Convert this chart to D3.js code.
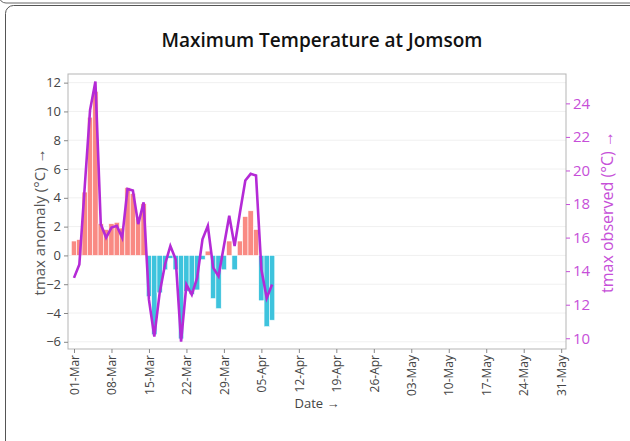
<!DOCTYPE html>
<html>
<head>
<meta charset="utf-8">
<script src="https://cdn.jsdelivr.net/npm/d3@7"></script>
<style>
  html, body { margin: 0; padding: 0; background: #fff; }
  svg { display: block; font-family: "Open Sans", sans-serif; }
</style>
</head>
<body>
<svg id="chart" width="630" height="441"></svg>
<script>
// ---- data (Mar 1 .. Apr 7) ----
const startDate = "2023-03-01";
const anomaly = [1.0, 1.1, 4.4, 9.6, 11.4, 2.2, 1.8, 2.2, 2.3, 1.9,
                 4.7, 4.3, 2.6, 3.6, -2.85, -5.5, -2.6, -1.0, -0.2, -1.0,
                 -5.8, -2.5, -2.7, -2.4, -0.3, 0.3, -3.0, -3.7, -1.0, 1.0,
                 -1.0, 1.0, 2.7, 3.1, 1.8, -3.15, -4.95, -4.5];
const observed = [13.6, 14.4, 19.0, 23.6, 25.3, 16.8, 16.0, 16.6, 16.7, 16.0,
                  18.9, 18.8, 16.8, 18.1, 12.3, 10.1, 12.7, 14.4, 15.5, 14.7,
                  9.8, 13.2, 12.6, 13.6, 15.9, 16.7, 14.2, 13.7, 15.5, 17.3,
                  15.5, 17.5, 19.4, 19.8, 19.7, 14.1, 12.4, 13.2];
const xTickLabels = ["01-Mar","08-Mar","15-Mar","22-Mar","29-Mar","05-Apr","12-Apr",
                     "19-Apr","26-Apr","03-May","10-May","17-May","24-May","31-May"];
const leftTicks = [-6, -4, -2, 0, 2, 4, 6, 8, 10, 12];
const rightTicks = [10, 12, 14, 16, 18, 20, 22, 24];

const DAY = 86400000;
const t0 = new Date(startDate + "T00:00:00");
const dates = anomaly.map((_, i) => new Date(t0.getTime() + i * DAY));
const rows = dates.map((d, i) => ({date: d, anom: anomaly[i], obs: observed[i]}));
const tickDates = xTickLabels.map((_, i) => new Date(t0.getTime() + i * 7 * DAY));

const svg = d3.select("#chart");
const M = {left: 68, right: 566, top: 74, bottom: 349};

// cards
svg.append("rect").attr("x", -1).attr("y", -40).attr("width", 640).attr("height", 43)
  .attr("rx", 7).attr("fill", "none").attr("stroke", "#666").attr("stroke-width", 1);
svg.append("rect").attr("x", 5.5).attr("y", 5.5).attr("width", 640).attr("height", 470)
  .attr("rx", 8).attr("fill", "#fff").attr("stroke", "#555").attr("stroke-width", 1);

const x = d3.scaleTime()
  .domain([new Date(t0.getTime() - 1.12 * DAY), new Date(t0.getTime() + 91.9 * DAY)])
  .range([M.left, M.right]);
const yL = d3.scaleLinear().domain([-6.5, 12.6]).range([M.bottom, M.top]);
const yR = d3.scaleLinear().domain([9.36, 25.75]).range([M.bottom, M.top]);

// title
svg.append("text").attr("x", 322).attr("y", 47).attr("text-anchor", "middle")
  .attr("font-size", 19).attr("font-weight", 600).attr("fill", "#111")
  .text("Maximum Temperature at Jomsom");

// gridlines
svg.append("g").selectAll("line").data(leftTicks).join("line")
  .attr("x1", M.left).attr("x2", M.right)
  .attr("y1", d => yL(d)).attr("y2", d => yL(d))
  .attr("stroke", "#f0f0f0").attr("stroke-width", 1);

// bars
const bw = x(new Date(t0.getTime() + DAY)) - x(t0);
svg.append("g").selectAll("rect").data(rows).join("rect")
  .attr("x", d => x(d.date) - bw / 2)
  .attr("width", bw)
  .attr("y", d => yL(Math.max(0, d.anom)))
  .attr("height", d => Math.abs(yL(d.anom) - yL(0)))
  .attr("fill", d => d.anom >= 0 ? "#f98a83" : "#3ec3dd")
  .attr("stroke", "#fff").attr("stroke-width", 0.6);

// line
const line = d3.line().x(d => x(d.date)).y(d => yR(d.obs));
svg.append("path").datum(rows).attr("d", line)
  .attr("fill", "none").attr("stroke", "#b42ad6").attr("stroke-width", 2.6)
  .attr("stroke-linejoin", "miter");

// plot frame
svg.append("rect").attr("x", M.left).attr("y", M.top)
  .attr("width", M.right - M.left).attr("height", M.bottom - M.top)
  .attr("fill", "none").attr("stroke", "#b5b5b5").attr("stroke-width", 1);

// axes
const xAxis = d3.axisBottom(x).tickValues(tickDates)
  .tickFormat((d, i) => xTickLabels[i]).tickSize(4).tickPadding(2);
const gx = svg.append("g").attr("transform", `translate(0,${M.bottom})`).call(xAxis);
gx.select(".domain").remove();
gx.selectAll(".tick line").attr("stroke", "#888");
gx.selectAll(".tick text")
  .attr("font-family", "Open Sans").attr("font-size", 12).attr("fill", "#444")
  .attr("transform", "rotate(-90)")
  .attr("text-anchor", "end").attr("dy", "0.35em").attr("x", -6).attr("y", 0);

const gl = svg.append("g").attr("transform", `translate(${M.left},0)`)
  .call(d3.axisLeft(yL).tickValues(leftTicks).tickSize(4).tickPadding(3));
gl.select(".domain").remove();
gl.selectAll(".tick line").attr("stroke", "#888");
gl.selectAll(".tick text").attr("font-family", "Open Sans").attr("font-size", 13).attr("fill", "#444");

const gr = svg.append("g").attr("transform", `translate(${M.right},0)`)
  .call(d3.axisRight(yR).tickValues(rightTicks).tickSize(4).tickPadding(3));
gr.select(".domain").remove();
gr.selectAll(".tick line").attr("stroke", "#c64fd8");
gr.selectAll(".tick text").attr("font-family", "Open Sans").attr("font-size", 15).attr("fill", "#c64fd8");

// axis titles
svg.append("text").attr("transform", "translate(40,222) rotate(-90)")
  .attr("text-anchor", "middle").attr("dy", "0.35em")
  .attr("font-size", 15).attr("fill", "#555").text("tmax anomaly (°C) →");
svg.append("text").attr("transform", "translate(607,212) rotate(-90)")
  .attr("text-anchor", "middle").attr("dy", "0.35em")
  .attr("font-size", 16).attr("fill", "#c64fd8").text("tmax observed (°C) →");
svg.append("text").attr("x", 317).attr("y", 403).attr("text-anchor", "middle")
  .attr("dy", "0.35em").attr("font-size", 13).attr("fill", "#444").text("Date →");
</script>
</body>
</html>
